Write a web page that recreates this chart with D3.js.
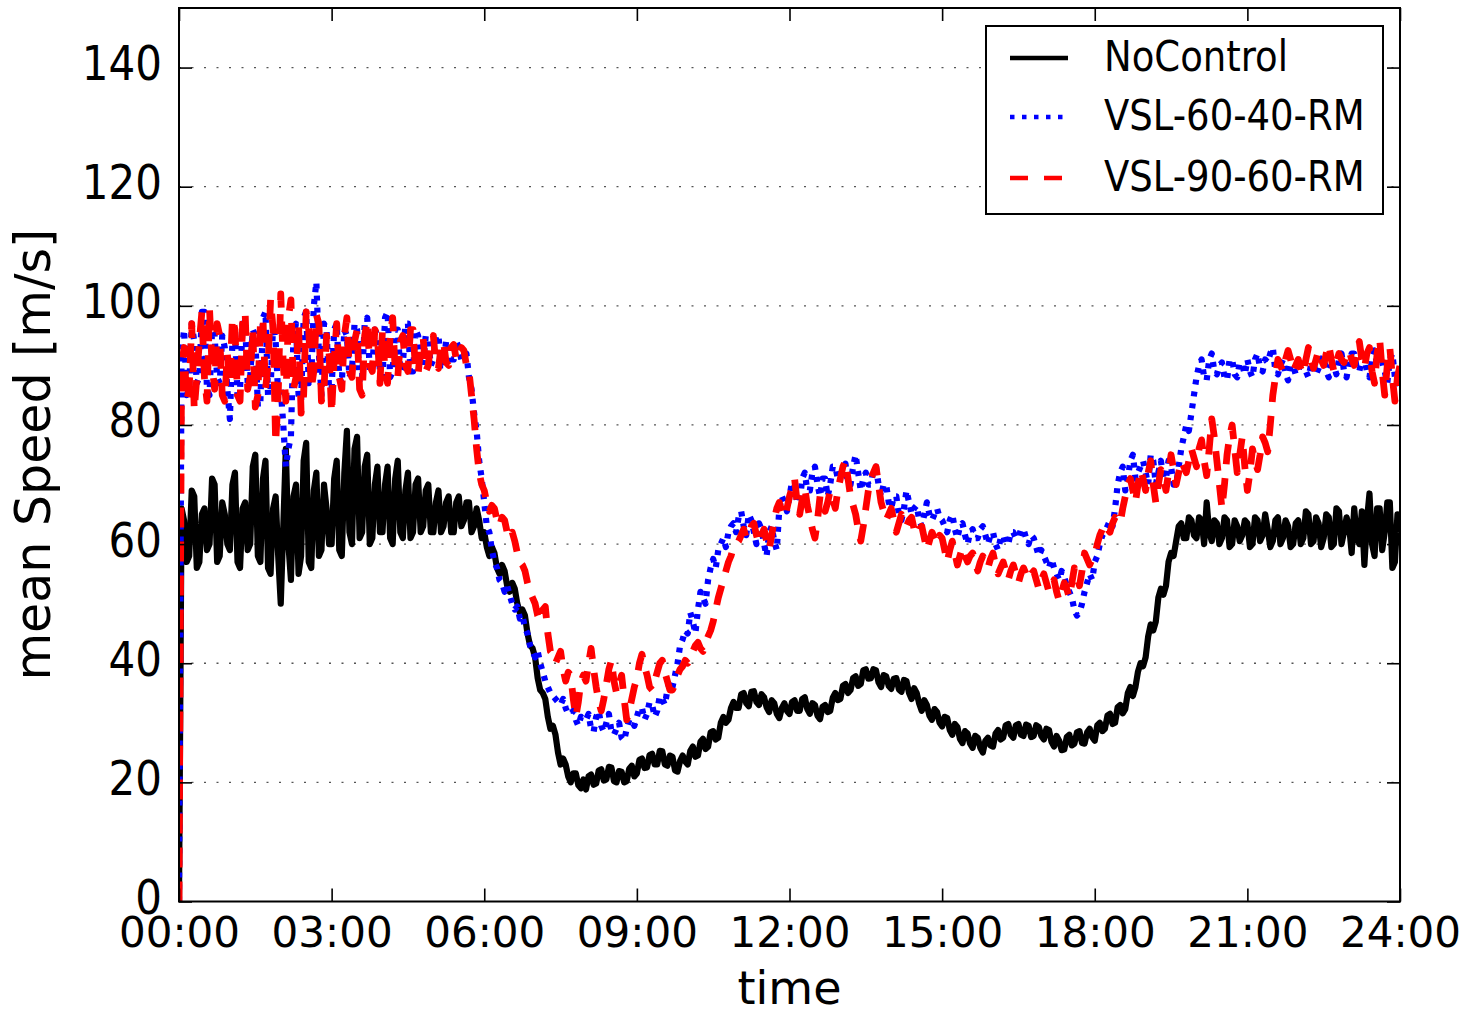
<!DOCTYPE html>
<html><head><meta charset="utf-8">
<script src="https://cdn.jsdelivr.net/npm/d3@7"></script>
<style>body{margin:0;background:#fff;} text{font-family:"DejaVu Sans",sans-serif;fill:#000;}</style>
</head><body><svg id="c" width="1470" height="1015"></svg>
<script>
// ---- data (one value every 3 minutes, 00:00 .. 24:00; one row per hour) ----
const stepHours = 0.05;
const seriesNames = ["NoControl", "VSL-60-40-RM", "VSL-90-60-RM"];
const noControl = [
0,66,64,57,58,69,68,56,57,65,66,59,60,71,70,57,58,67,65,60,
59,70,72,57,56,66,67,59,60,73,75,58,57,71,74,56,55,66,68,58,
50,63,76,60,54,68,70,55,58,74,77,57,56,69,72,58,59,70,66,60,
60,71,74,59,58,72,79,62,60,76,78,61,62,73,75,60,61,70,73,62,
62,70,73,61,60,71,74,62,61,69,72,61,62,70,71,62,63,69,70,62,
62,67,69,62,63,67,68,62,62,67,68,63,64,67,67,62,63,66,64,61,
62,59.5,58,59.5,58.5,56,55,56.5,55.5,53,52,53.5,52.5,50,48.5,49,48,45,43,42.5,
41,37.5,35.5,35,34,31,29,29.5,28,25,23,24,23,21,20,21.5,21.5,19.5,19,20.5,
18.8,21,21.3,19.6,19.8,22,22.2,20.3,20.5,22.6,22.5,20.2,20,21.9,21.8,20,20.2,22.3,22.8,21,
21.5,23.8,24,22.4,22.5,24.6,24.8,23,23,25.3,25.2,23,22.8,24.5,24.3,22,21.8,23.6,24.5,23.5,
23,25.3,26,24.3,24.5,26.8,27.3,25.6,26,28.4,28.6,27.2,27.5,30,31,30,30.5,32.5,33.5,32.5,
32.5,34.8,35,33.3,32.8,35.2,35.3,33.5,33,34.8,34.3,32.6,31.8,33.8,33.3,31.5,30.8,32.5,33.3,32,
31.5,33.5,33.8,32,32,34,34.3,32.3,31.5,33.3,33,31.2,30.6,32.7,33,31.8,32,34.2,35,33.8,
34,36.2,36.5,35,35.5,37.5,37.8,36.2,36.5,38.8,39,37.4,37.5,39,38.8,36.8,36,38,37.8,36.2,
35.7,37.4,37.5,35.6,35.2,37.2,37,35,34,35.8,35,33.2,32,33.8,33,31.2,30.5,32.3,31.8,30,
29.4,31,30.8,28.8,28,29.8,29.3,27.3,26.6,28.6,28.2,26.5,25.8,27.8,27.5,25.8,25,27,27.5,26.2,
26,28.2,28.8,27.2,27.5,29.6,29.8,28,27.5,29.6,29.8,28,27.8,29.7,29.5,27.6,27.8,29.6,29.3,27.8,
27.2,29,28.8,26.8,26,27.8,27,25.4,25.5,27.6,28,26.2,26.5,28.4,28.6,26.6,26.5,28.4,29,27.6,
27,29.6,30,28.6,29,31.2,31.5,29.8,30,32.6,33,31.6,32.3,35,36,34.5,36,38.6,40,39.5,
41,44.5,46.5,45.5,47,51,52.5,51.5,53,57,58.5,58,60.5,63,63.5,61,61,64.5,64,61.5,
61,64.5,64,60,67,62,60.5,64,63.5,60,61,64.5,64,59.5,60,64,63,60.5,61.5,64,
63.5,59.5,60,64.5,64,60.5,61.5,65,62.5,59.5,60.5,64,64.5,60,61,64,63,59.5,60,63.5,
64,60,61,65.5,65,60,60.5,64.5,63.5,59.5,61,65,64.5,59.5,60,66,65.5,60,62,64.5,
63,58.5,66,61,60,65.5,56.5,64,68.5,60,58,66,66,59,62,67,67,56,57,65,
62];
const vsl6040 = [
0,92,96,85,86,97,94,87,88,99,99,86,85,96,95,88,87,95,93,86,
81,94,96,85,86,97,97,87,88,96,95,83,84,98,99,85,86,97,94,85,
86,80,73,76,78,95,97,85,84,98,99,87,88,100,104,92,85,97,96,86,
86,96,97,88,87,96,95,88,89,97,96,87,88,97,98,89,90,96,95,89,
88,98,99,88,89,96,96,89,90,97,97,89,89,96,95,90,90,95,94,90,
91,95,95,90,90,94,94,91,91,94,93,91,91,92,88,86,82,79,74,71,
67,63,62,59,57,56,54,53.5,52,53,51.5,50,49,49.5,47.5,48,46,45,43,42,
41,42,40,38.5,37,36,35,34.5,34,33.5,33,34,32.5,31.5,31.5,32,30.5,29.5,31,30.5,
30.5,31.5,29,28.5,31,32,29.5,28.5,30,31.5,28.5,28,29,30,27.5,27,29,30.5,30.5,29.5,
31,32.5,32.5,30.5,31.5,33.5,33,31,32,34.5,34,33,35.5,37,36,38,40,43,44,45.5,
45,48.5,47,45,49,52,51,50,54,56,57.5,56,59,60,61,59.5,62,63,63.5,62,
64.5,65.5,63,61.5,65,64,62,60,63.5,62.5,60,58,62,63,60.5,59,66,68,67,65.5,
68,70.5,70,67,67,71,72,69,69,72,73,70,68,71,71,68,70,73,73,71,
71,72.5,73.5,70,70,73,75,72,69,71,72,70,70,72.5,73,70,68,70,70,67,
66,68,68,65,64,66,69,67,65,66,66.5,64,63,65,67,65,64,65,66,64.5,
64,63,62,64,65,62.5,61,63,63.5,61.5,60,62,62.5,61,61,62.5,63,61.5,60,61.5,
62,60,59,61,61.5,60,60,62,62,61,61,62.5,62.5,61,60,61.5,61,59.5,58,59,
58,57,56,57.5,56,55,54,55.5,54.5,53,52,51,49,48,48.5,50,52,53.5,55,54,
57,58,60,61.5,62,63,64,63,66,70,72,73,69,71,74,75,71,72,73,74,
72,70,75,74,70,72,74,71,71,74,73,70,70,73,76,78,80,79,82,85,
88,90,91,88,87.5,91,92,89,88.5,90,90.5,88,87.5,91,91,88.5,88,90.5,90,88.5,
91,89,88,91,92,89.5,89,91,90.5,92,93,89,88.5,90,91,88.5,87.5,90,90,88.5,
89,90.5,91,89,88,90,90.5,88.5,89.5,91,91.5,89,88,90,90,88.5,91,92,89,88,
90.5,92,92,89.5,89,91,91.5,89,88,91,92.5,90,90,90.5,89,87,91,92,88,87,
90];
const vsl9060 = [
0,90,93,84,86,97,82.5,88,94,99,88,84,99.5,90,86,97,95,85,84,92,
87,98,96,85,84,97,99,86,88,96,83,85,97,98,86,90,101,96,77,85,
102,90,84,98,101,86,88,97,82,85,99,96,86,89,98.5,97,84,86,95,92,
82,91,97,88,86,95,98,89,88,94,96,86,85,95,97.5,90,89,96,95,87,
96,89,87,95,98,89,88,94,95,90,89,96,96,89,88.5,93,94.5,89,90,94,
95,90,89.5,93,94,90.5,90,93,93.5,91,91,93,92.5,90,89,85,81,76,72,70,
69,67,65.5,66.5,66,64,63,64.5,64,62,61,62,60.5,58.5,57,56.5,55.5,53.5,52,51,
50,48,47,49,49.5,45,42,41.5,40,41,42,39,37,38.5,38,34,31,33.5,37,38,
37,40,42.5,39,36,33.5,32,34,36.5,39,40.5,37,35,36.5,38,34,30.5,32,34,36,
37.5,40,41.5,39.5,38,36,35.5,37,38.5,40,40.5,38.5,37,35.5,35.5,36.5,38,39,39.5,40.5,
40,41,42,43,43.5,42.5,42,43.5,44.5,45.5,47,49,51,52.5,54,55.5,57,58,59.5,60,
60.5,61.5,62.5,61,61.5,63,63.5,61.5,60,61.5,62.5,60.5,59,61.5,64,66,67,65.5,64.5,66,
68,69.5,71,67,65,67.5,69.5,66.5,64.5,62.5,61,64,68,67,65.5,67,69,67.5,66,69,
71,73,74,71,68,66.5,65,62.5,60.5,63,66,69,71,72,73,70,67,65.5,64,65,
66,64,62,63.5,65,64,63,64,64.5,62.5,61.5,62.5,63,61,59,60.5,62,61,60,61.5,
61,59,57,59,60.5,58.5,56.5,58,59.5,58,57,58,58.5,57,55.5,57,58,57,56,57.5,
58.5,56.5,55,56,57,55.5,54,55.5,56.5,55,53.5,55,56,55,54,55,55.5,54,52.5,54,
55,53.5,52,53,54,52,50.5,52,53.5,52.5,51,53.5,56,54.5,53,55.5,58.5,57.5,56.5,57.5,
58,60,61.5,62.5,63.5,62.5,62,63.5,64.5,64,63.5,66,68,70,71,69,67,70,72.5,71,
69,72,74,70,67,70,72.5,71,69,72,75,72.5,70,72,74,73,72,74,76,74.5,
73,76,77.5,74,71.5,76,81,78,74,70,66,70,75,78,80,76,72,75,78,73,
69,72,76,74,72.5,75,78,77,75.5,80,85,88,91,90,89,91,92.5,91,89,90,
91,89.5,88.5,91,93,91,89.5,91,92.5,91,90,92,93.5,91,89,90.5,92,91,90.5,92,
92.5,91,90,92.5,94,91,89.5,92,93,89,87,92,94.5,89,85,90,93,88,84,88,
90];
const xTickValues = [0, 3, 6, 9, 12, 15, 18, 21, 24];
const xTickLabels = ["00:00","03:00","06:00","09:00","12:00","15:00","18:00","21:00","24:00"];
const yTickValues = [0, 20, 40, 60, 80, 100, 120, 140];
const xLabel = "time";
const yLabel = "mean Speed [m/s]";

// ---- layout ----
const L = 179, R = 1400, T = 8, B = 901.5;
const svg = d3.select("#c");
const x = d3.scaleLinear().domain([0, 24]).range([L, R]);
const y = d3.scaleLinear().domain([0, 150]).range([B, T]);

svg.append("defs").append("clipPath").attr("id", "clip")
  .append("rect").attr("x", L).attr("y", T).attr("width", R - L).attr("height", B - T);

// grid
svg.append("g").selectAll("line").data(yTickValues.filter(v => v > 0)).join("line")
  .attr("x1", L).attr("x2", R).attr("y1", d => y(d)).attr("y2", d => y(d))
  .attr("stroke", "#555").attr("stroke-width", 1.3).attr("stroke-dasharray", "2,10.5");

// series
const series = [
  {name: seriesNames[0], values: noControl, color: "#000000", dash: null, w: 6.2, legendDash: null},
  {name: seriesNames[1], values: vsl6040, color: "#0000ff", dash: "5,7", w: 6.2, legendDash: "4.5,7.5"},
  {name: seriesNames[2], values: vsl9060, color: "#ff0000", dash: "20,14", w: 6.8, legendDash: "18,16"}
];
const line = d3.line().x((d, i) => x(i * stepHours)).y(d => y(d));
const gLines = svg.append("g").attr("clip-path", "url(#clip)");
series.forEach(s => {
  gLines.append("path").datum(s.values).attr("d", line)
    .attr("fill", "none").attr("stroke", s.color).attr("stroke-width", s.w)
    .attr("stroke-linejoin", "round")
    .attr("stroke-dasharray", s.dash);
});

// axes
const fmtX = d => xTickLabels[xTickValues.indexOf(d)];
const ax = svg.append("g").attr("transform", `translate(0,${B})`)
  .call(d3.axisBottom(x).tickValues(xTickValues).tickFormat(fmtX).tickSizeInner(-13).tickSizeOuter(0).tickPadding(16));
ax.selectAll("text").attr("font-size", 42).attr("font-family", "DejaVu Sans").attr("fill", "#000");
svg.append("g").attr("transform", `translate(0,${T})`)
  .call(d3.axisTop(x).tickValues(xTickValues).tickFormat("").tickSizeInner(-13).tickSizeOuter(0));
const ay = svg.append("g").attr("transform", `translate(${L},0)`)
  .call(d3.axisLeft(y).tickValues(yTickValues).tickSizeInner(-13).tickSizeOuter(0).tickPadding(17));
ay.selectAll("text").attr("font-size", 42).attr("font-family", "DejaVu Sans").attr("fill", "#000")
  .attr("dy", null).attr("y", 0).attr("transform", "translate(0,12) scale(1,1.13)");
svg.append("g").attr("transform", `translate(${R},0)`)
  .call(d3.axisRight(y).tickValues(yTickValues).tickFormat("").tickSizeInner(-13).tickSizeOuter(0));
svg.selectAll(".domain").remove();
svg.selectAll(".tick line").attr("stroke", "#000").attr("stroke-width", 1.6);

// frame
svg.append("rect").attr("x", L).attr("y", T).attr("width", R - L).attr("height", B - T)
  .attr("fill", "none").attr("stroke", "#000").attr("stroke-width", 2);

// axis labels
svg.append("text").attr("x", (L + R) / 2).attr("y", 1004).attr("text-anchor", "middle")
  .attr("font-size", 46).text(xLabel);
svg.append("text").attr("transform", `translate(50,${(T + B) / 2}) rotate(-90)`).attr("text-anchor", "middle")
  .attr("font-size", 49).text(yLabel);

// legend
const lg = svg.append("g");
lg.append("rect").attr("x", 986).attr("y", 26).attr("width", 397).attr("height", 188)
  .attr("fill", "#fff").attr("stroke", "#000").attr("stroke-width", 2);
const rowsY = [58, 117, 178];
series.forEach((s, i) => {
  lg.append("line").attr("x1", 1010).attr("x2", 1068).attr("y1", rowsY[i]).attr("y2", rowsY[i])
    .attr("stroke", s.color).attr("stroke-width", 4.5).attr("stroke-dasharray", s.legendDash);
  lg.append("text").attr("transform", `translate(1104,${rowsY[i] + 13}) scale(1,1.13)`)
    .attr("font-size", 37).text(s.name);
});
</script></body></html>
